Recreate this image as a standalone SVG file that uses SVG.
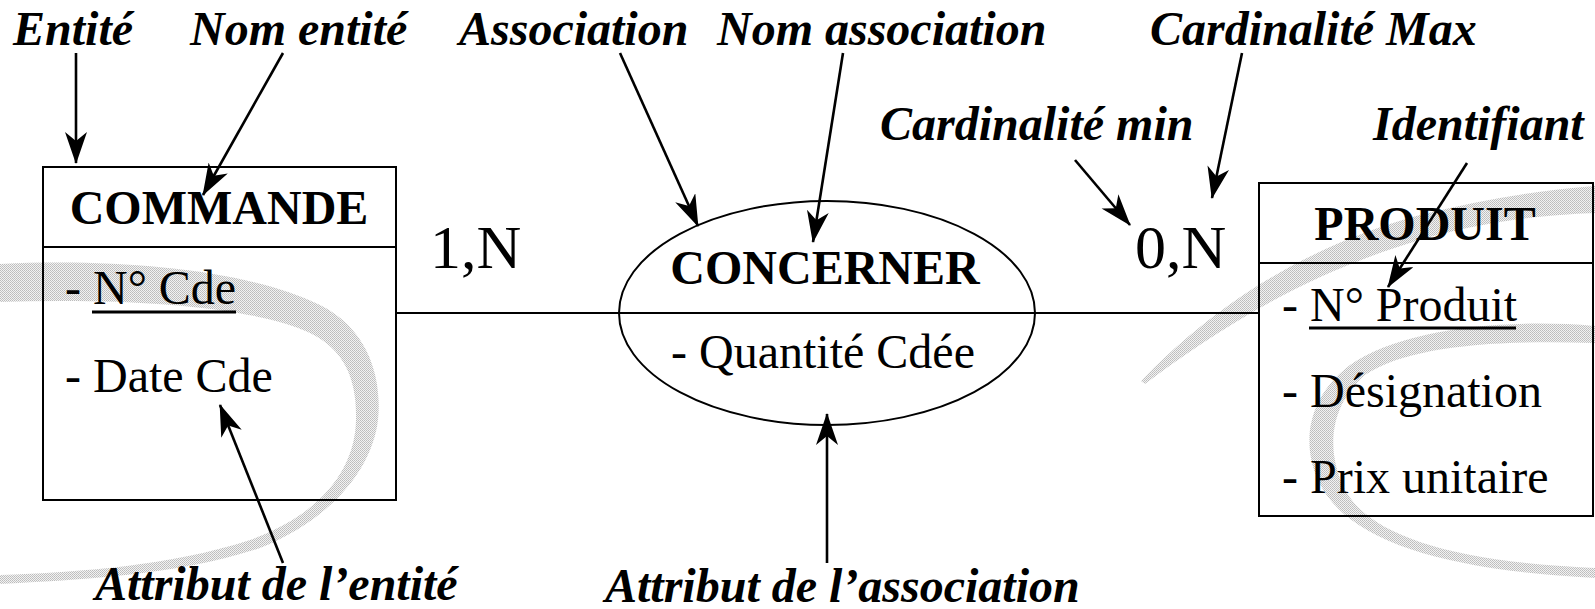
<svg xmlns="http://www.w3.org/2000/svg" width="1595" height="609" viewBox="0 0 1595 609">
  <defs>
    <marker id="arrow" markerUnits="userSpaceOnUse" markerWidth="34" markerHeight="24" refX="31" refY="11" orient="auto">
      <path d="M0,0 L32,11 L0,22 L9,11 Z" fill="#000"/>
    </marker>
    <pattern id="grain" width="2" height="2" patternUnits="userSpaceOnUse">
      <rect width="2" height="2" fill="#f2f2f2"/>
      <rect width="1" height="1" fill="#bcbcbc"/>
      <rect x="1" y="1" width="1" height="1" fill="#c4c4c4"/>
    </pattern>
  </defs>
  <style>
    .label { font-family: "Liberation Serif", "Times New Roman", serif; font-weight: bold; font-style: italic; font-size: 48px; fill: #000; }
    .title { font-family: "Liberation Serif", "Times New Roman", serif; font-weight: bold; font-size: 48px; fill: #000; }
    .attr { font-family: "Liberation Serif", "Times New Roman", serif; font-size: 48px; fill: #000; }
    .card { font-family: "Liberation Serif", "Times New Roman", serif; font-size: 62px; fill: #000; }
    .shape { fill: none; stroke: #000; stroke-width: 2; }
    .link { fill: none; stroke: #000; stroke-width: 2; }
    .key { stroke: #000; stroke-width: 3; }
    .pointer { fill: none; stroke: #000; stroke-width: 2.6; marker-end: url(#arrow); }
    .swoosh { fill: url(#grain); stroke: none; }
  </style>

  <rect width="1595" height="609" fill="#fff"/>

  <!-- background swooshes -->
  <g id="backdrop">
    <path class="swoosh" d="M0,264 C120,258 250,270 320,305 C370,330 382,380 378,420 C372,470 330,520 260,548 C180,575 80,580 0,584 L0,575 C80,572 170,566 250,540 C320,515 355,470 356,420 C357,380 345,350 310,333 C250,305 120,298 0,302 Z"/>
    <path class="swoosh" d="M1141,381 C1200,320 1290,250 1420,215 C1480,200 1540,190 1595,186 L1595,213 C1540,215 1480,222 1420,240 C1300,275 1210,335 1145,384 Z"/>
    <path class="swoosh" d="M1595,326 C1500,318 1400,330 1350,365 C1310,395 1300,440 1318,480 C1345,540 1440,570 1595,578 L1595,568 C1450,562 1370,535 1345,490 C1325,450 1330,405 1365,375 C1410,345 1500,340 1595,343 Z"/>
  </g>

  <!-- links between entities and association -->
  <g id="connectors">
    <line class="link" x1="396" y1="313" x2="619" y2="313"/>
    <line class="link" x1="1035" y1="313" x2="1259" y2="313"/>
  </g>

  <!-- entity COMMANDE -->
  <g id="commande">
    <rect class="shape" x="43" y="167" width="353" height="333"/>
    <line class="shape" x1="43" y1="247" x2="396" y2="247"/>
    <text class="title" x="219" y="224" text-anchor="middle">COMMANDE</text>
    <text class="attr" x="65" y="304">- N° Cde</text>
    <line class="key" x1="92" y1="312" x2="236" y2="312"/>
    <text class="attr" x="65" y="392">- Date Cde</text>
  </g>

  <!-- association CONCERNER -->
  <g id="concerner">
    <ellipse class="shape" cx="827" cy="313" rx="208" ry="112"/>
    <line class="shape" x1="619" y1="313" x2="1035" y2="313"/>
    <text class="title" x="825" y="284" text-anchor="middle">CONCERNER</text>
    <text class="attr" x="823" y="368" text-anchor="middle">- Quantité Cdée</text>
  </g>

  <!-- entity PRODUIT -->
  <g id="produit">
    <rect class="shape" x="1259" y="183" width="334" height="333"/>
    <line class="shape" x1="1259" y1="263" x2="1593" y2="263"/>
    <text class="title" x="1425" y="240" text-anchor="middle">PRODUIT</text>
    <text class="attr" x="1282" y="321">- N° Produit</text>
    <line class="key" x1="1309" y1="328" x2="1516" y2="328"/>
    <text class="attr" x="1282" y="407">- Désignation</text>
    <text class="attr" x="1282" y="493">- Prix unitaire</text>
  </g>

  <!-- cardinalities -->
  <g id="cardinalities">
    <text class="card" x="430" y="268">1,N</text>
    <text class="card" x="1135" y="268">0,N</text>
  </g>

  <!-- annotation labels -->
  <g id="labels">
    <text class="label" x="13" y="45">Entité</text>
    <text class="label" x="190" y="45">Nom entité</text>
    <text class="label" x="459" y="45">Association</text>
    <text class="label" x="717" y="45">Nom association</text>
    <text class="label" x="1150" y="45">Cardinalité Max</text>
    <text class="label" x="880" y="140">Cardinalité min</text>
    <text class="label" x="1373" y="140">Identifiant</text>
    <text class="label" x="95" y="600">Attribut de l’entité</text>
    <text class="label" x="605" y="602">Attribut de l’association</text>
  </g>

  <!-- annotation pointers -->
  <g id="pointers">
    <line class="pointer" x1="76" y1="53" x2="76" y2="163"/>
    <line class="pointer" x1="283" y1="53" x2="203" y2="195"/>
    <line class="pointer" x1="620" y1="53" x2="698" y2="226"/>
    <line class="pointer" x1="843" y1="53" x2="813" y2="242"/>
    <line class="pointer" x1="1242" y1="53" x2="1212" y2="198"/>
    <line class="pointer" x1="1075" y1="160" x2="1130" y2="225"/>
    <line class="pointer" x1="1467" y1="163" x2="1388" y2="287"/>
    <line class="pointer" x1="283" y1="563" x2="220" y2="405"/>
    <line class="pointer" x1="827" y1="563" x2="827" y2="414"/>
  </g>
</svg>
